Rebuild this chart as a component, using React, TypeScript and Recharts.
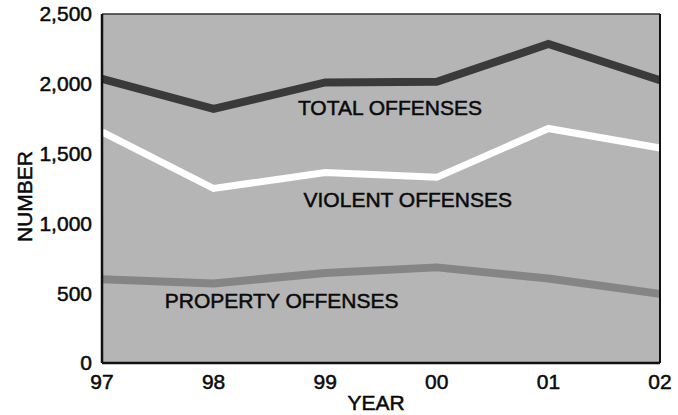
import {
  CartesianGrid,
  Label,
  Line,
  LineChart,
  ReferenceDot,
  ReferenceLine,
  XAxis,
  YAxis,
} from "recharts";

const years = [1997, 1998, 1999, 2000, 2001, 2002];
const totalOffenses = [2035, 1820, 2010, 2015, 2285, 2025];
const violentOffenses = [1655, 1250, 1365, 1330, 1680, 1540];
const propertyOffenses = [600, 570, 645, 685, 605, 495];
const yTicks = [0, 500, 1000, 1500, 2000, 2500];

const chartData = years.map((year, i) => ({
  year,
  total: totalOffenses[i],
  violent: violentOffenses[i],
  property: propertyOffenses[i],
}));

const font = "'Liberation Sans', Arial, sans-serif";
// heavier than plain regular, the scan looks like Helvetica medium
const textStyle = {
  fontFamily: font,
  fontSize: 21,
  fill: "#0a0a0a",
  stroke: "#0a0a0a",
  strokeWidth: 0.5,
};

const fmtYear = (y: number) => String(y).slice(2);
const fmtNum = (v: number) => v.toLocaleString("en-US");

export default function App() {
  return (
    <div style={{ position: "absolute", left: 0, top: 0, background: "#fff" }}>
      <LineChart
        width={678}
        height={415}
        data={chartData}
        margin={{ top: 14, right: 18, left: 0, bottom: 0 }}
      >
        <CartesianGrid horizontal={false} vertical={false} fill="#b5b5b5" stroke="none" />
        <XAxis
          dataKey="year"
          type="number"
          domain={[1997, 2002]}
          ticks={years}
          tickFormatter={fmtYear}
          height={52}
          tickLine={false}
          tickMargin={5}
          axisLine={{ stroke: "#111", strokeWidth: 2.5 }}
          tick={textStyle}
          interval={0}
        >
          <Label value="YEAR" position="insideBottom" offset={5} dx={-5} style={textStyle} />
        </XAxis>
        <YAxis
          domain={[0, 2500]}
          ticks={yTicks}
          tickFormatter={fmtNum}
          width={102}
          tickLine={false}
          tickMargin={4}
          axisLine={{ stroke: "#111", strokeWidth: 2.5 }}
          tick={textStyle}
          interval={0}
        >
          <Label
            content={({ viewBox }: any) => {
              const cx = viewBox.x + 24;
              const cy = viewBox.y + viewBox.height / 2 + 8;
              return (
                <text
                  x={cx}
                  y={cy}
                  transform={`rotate(-90, ${cx}, ${cy})`}
                  textAnchor="middle"
                  dominantBaseline="central"
                  style={textStyle}
                >
                  NUMBER
                </text>
              );
            }}
          />
        </YAxis>
        <ReferenceLine y={2500} stroke="#333" strokeWidth={1.5} />
        <Line
          dataKey="property"
          stroke="#858585"
          strokeWidth={8}
          dot={false}
          isAnimationActive={false}
          strokeLinejoin="round"
        />
        <Line
          dataKey="violent"
          stroke="#ffffff"
          strokeWidth={7}
          dot={false}
          isAnimationActive={false}
          strokeLinejoin="miter"
        />
        <Line
          dataKey="total"
          stroke="#3a3a3a"
          strokeWidth={8}
          dot={false}
          isAnimationActive={false}
          strokeLinejoin="miter"
        />
        <ReferenceLine x={2002} stroke="#111" strokeWidth={2} />
        <ReferenceDot x={1999.58} y={1832} r={0} stroke="none" fill="none">
          <Label value="TOTAL OFFENSES" position="center" style={textStyle} />
        </ReferenceDot>
        <ReferenceDot x={1999.74} y={1171} r={0} stroke="none" fill="none">
          <Label value="VIOLENT OFFENSES" position="center" style={textStyle} />
        </ReferenceDot>
        <ReferenceDot x={1998.61} y={445} r={0} stroke="none" fill="none">
          <Label value="PROPERTY OFFENSES" position="center" style={textStyle} />
        </ReferenceDot>
      </LineChart>
    </div>
  );
}
